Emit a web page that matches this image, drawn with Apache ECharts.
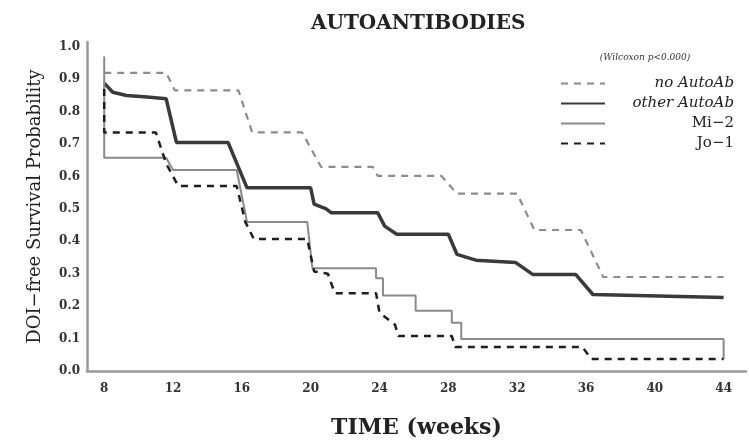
<!DOCTYPE html>
<html>
<head>
<meta charset="utf-8">
<title>Autoantibodies</title>
<script src="https://cdn.jsdelivr.net/npm/echarts@6/dist/echarts.min.js"></script>
<style>
    html, body {margin: 0; padding: 0; background: #fff;}
    #main {width: 749px; height: 443px;}
</style>
</head>
<body>
<div id="main"></div>
<script>
// weeks / survival, one pair of arrays per group
const noAutoAbWeeks = [8, 11.6, 12.1, 15.8, 16.6, 19.5, 20.6, 23.6, 23.9, 27.6, 28.5, 32.0, 33.0, 35.7, 37.0, 44];
const noAutoAbSurv = [0.92, 0.92, 0.866, 0.866, 0.736, 0.736, 0.63, 0.63, 0.602, 0.602, 0.547, 0.547, 0.435, 0.435, 0.29, 0.29];

const otherAutoAbWeeks = [8, 8.5, 9.3, 10.5, 11.6, 12.2, 15.2, 16.3, 20.0, 20.2, 20.9, 21.2, 23.9, 24.3, 25.0, 28.0, 28.5, 29.6, 31.9, 32.9, 35.4, 36.4, 44];
const otherAutoAbSurv = [0.888, 0.86, 0.85, 0.845, 0.84, 0.705, 0.705, 0.565, 0.565, 0.515, 0.50, 0.488, 0.488, 0.447, 0.422, 0.422, 0.36, 0.342, 0.335, 0.298, 0.298, 0.236, 0.227];

const mi2Weeks = [8, 8, 11.6, 12.0, 15.7, 16.3, 19.8, 20.1, 23.8, 23.8, 24.2, 24.2, 26.1, 26.1, 28.2, 28.2, 28.75, 28.75, 44, 44];
const mi2Surv = [0.97, 0.658, 0.658, 0.62, 0.62, 0.46, 0.46, 0.317, 0.317, 0.286, 0.286, 0.233, 0.233, 0.186, 0.186, 0.149, 0.149, 0.099, 0.099, 0.037];

const jo1Weeks = [8, 8, 11.0, 11.6, 12.3, 15.7, 16.2, 16.7, 19.8, 20.2, 21.0, 21.4, 23.8, 24.0, 24.9, 25.1, 28.2, 28.4, 35.8, 36.3, 44];
const jo1Surv = [0.87, 0.736, 0.736, 0.64, 0.571, 0.571, 0.46, 0.407, 0.407, 0.307, 0.30, 0.24, 0.24, 0.18, 0.143, 0.108, 0.108, 0.074, 0.074, 0.037, 0.037];

const groupNames = ['no AutoAb', 'other AutoAb', 'Mi\u22122', 'Jo\u22121'];
const weekTicks = [8, 12, 16, 20, 24, 28, 32, 36, 40, 44];
const probTicks = [0, 0.1, 0.2, 0.3, 0.4, 0.5, 0.6, 0.7, 0.8, 0.9, 1.0];

// the scan is stretched sideways, DejaVu Serif is the widest serif on hand
const serif = '"DejaVu Serif", "Liberation Serif", serif';

function pairs(xs, ys) {
    return xs.map(function (x, i) {
        return [x, ys[i]];
    });
}

function survivalChart(divId) {
    const myChart = echarts.init(document.getElementById(divId));
    const legendText = {
        width: 124,
        align: 'right',
        fontFamily: serif,
        fontSize: 15,
        lineHeight: 15,
        color: '#222'
    };
    const option = {
        animation: false,
        backgroundColor: '#fff',
        title: {
            text: 'AUTOANTIBODIES',
            left: 306,
            top: 9,
            textStyle: {
                fontFamily: serif,
                fontWeight: 'bold',
                fontSize: 20,
                color: '#222'
            }
        },
        graphic: [{
            type: 'text',
            x: 645,
            y: 58,
            style: {
                text: '(Wilcoxon p<0.000)',
                font: 'italic 9px ' + serif,
                fill: '#333',
                textAlign: 'center',
                textVerticalAlign: 'middle'
            }
        }],
        legend: {
            left: 560,
            top: 76,
            padding: 0,
            orient: 'vertical',
            selectedMode: false,
            itemWidth: 44,
            itemHeight: 12,
            itemGap: 5,
            data: groupNames,
            itemStyle: {opacity: 0, borderWidth: 0},
            formatter: function (name) {
                return name.indexOf('AutoAb') >= 0 ? '{it|' + name + '}' : '{r|' + name + '}';
            },
            textStyle: {
                rich: {
                    r: legendText,
                    it: Object.assign({}, legendText, {fontStyle: 'italic'})
                }
            }
        },
        grid: {
            left: 87,
            right: 3,
            top: 42,
            bottom: 72,
            outerBoundsMode: 'none'
        },
        xAxis: {
            type: 'value',
            min: 7,
            max: 45.3,
            name: 'TIME (weeks)',
            nameLocation: 'middle',
            nameGap: 46,
            nameTextStyle: {
                fontFamily: serif,
                fontWeight: 'bold',
                fontSize: 22,
                color: '#222'
            },
            axisLine: {lineStyle: {color: '#9a9a9a', width: 2.5}},
            axisTick: {show: false},
            splitLine: {show: false},
            axisLabel: {
                customValues: weekTicks,
                margin: 12,
                fontFamily: serif,
                fontWeight: 'bold',
                fontSize: 12,
                color: '#333'
            }
        },
        yAxis: {
            type: 'value',
            min: 0,
            max: 1.015,
            name: 'DOI\u2212free Survival Probability',
            nameLocation: 'middle',
            nameGap: 43,
            nameTextStyle: {
                fontFamily: serif,
                fontSize: 18,
                color: '#222'
            },
            axisLine: {show: true, lineStyle: {color: '#9a9a9a', width: 2.5}},
            axisTick: {show: false},
            splitLine: {show: false},
            axisLabel: {
                customValues: probTicks,
                margin: 7,
                fontFamily: serif,
                fontWeight: 'bold',
                fontSize: 12,
                color: '#333',
                formatter: function (v) {
                    return v.toFixed(1);
                }
            }
        },
        series: [
            {
                name: groupNames[0],
                type: 'line',
                symbol: 'none',
                data: pairs(noAutoAbWeeks, noAutoAbSurv),
                lineStyle: {color: '#8c8c8c', width: 2.2, type: [7, 6]},
                itemStyle: {color: '#8c8c8c'}
            },
            {
                name: groupNames[1],
                type: 'line',
                symbol: 'none',
                data: pairs(otherAutoAbWeeks, otherAutoAbSurv),
                lineStyle: {color: '#3a3a3a', width: 3.5},
                itemStyle: {color: '#3a3a3a'}
            },
            {
                name: groupNames[2],
                type: 'line',
                symbol: 'none',
                data: pairs(mi2Weeks, mi2Surv),
                lineStyle: {color: '#8a8a8a', width: 2},
                itemStyle: {color: '#8a8a8a'}
            },
            {
                name: groupNames[3],
                type: 'line',
                symbol: 'none',
                data: pairs(jo1Weeks, jo1Surv),
                lineStyle: {color: '#1e1e1e', width: 2.5, type: [7, 6]},
                itemStyle: {color: '#1e1e1e'}
            }
        ]
    };

    myChart.setOption(option);
    return myChart;
}

survivalChart('main');
</script>
</body>
</html>
